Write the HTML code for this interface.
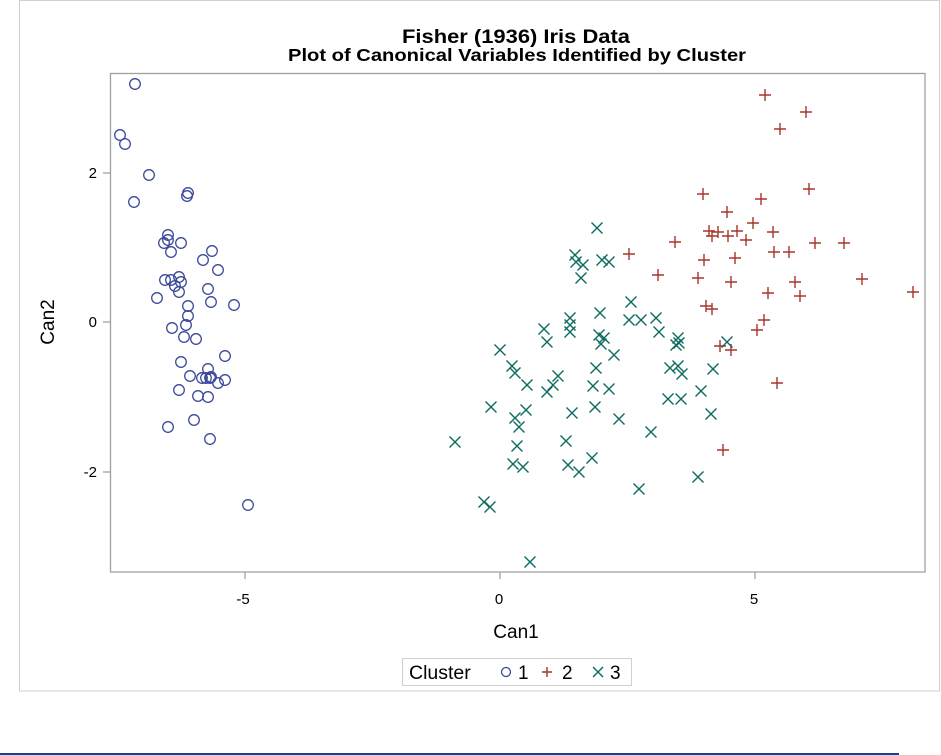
<!DOCTYPE html>
<html><head><meta charset="utf-8"><style>body{margin:0;background:#fff}svg{display:block}</style></head><body>
<svg width="941" height="755" xmlns="http://www.w3.org/2000/svg" font-family="Liberation Sans, Arial, sans-serif">
<rect x="19.5" y="0.5" width="920" height="690.5" fill="#fff" stroke="#d0d0d0" stroke-width="1"/>
<line x1="0" y1="754" x2="899" y2="754" stroke="#1a3f99" stroke-width="2"/>
<text x="402" y="43" font-size="19" font-weight="bold" textLength="228" lengthAdjust="spacingAndGlyphs">Fisher (1936) Iris Data</text>
<text x="288" y="61" font-size="17.5" font-weight="bold" textLength="458" lengthAdjust="spacingAndGlyphs">Plot of Canonical Variables Identified by Cluster</text>
<rect x="110.5" y="73.5" width="814.5" height="498.5" fill="none" stroke="#a0a0a0" stroke-width="1.3"/>
<g stroke="#a0a0a0" stroke-width="1.3">
<line x1="245" y1="572" x2="245" y2="579"/><line x1="500" y1="572" x2="500" y2="579"/><line x1="755" y1="572" x2="755" y2="579"/>
<line x1="103" y1="173" x2="110" y2="173"/><line x1="103" y1="322" x2="110" y2="322"/><line x1="103" y1="472" x2="110" y2="472"/>
</g>
<g font-size="15" fill="#000">
<text x="243" y="604" text-anchor="middle">-5</text><text x="499" y="604" text-anchor="middle">0</text><text x="754" y="604" text-anchor="middle">5</text>
<text x="97" y="178" text-anchor="end">2</text><text x="97" y="327" text-anchor="end">0</text><text x="97" y="477" text-anchor="end">-2</text>
</g>
<text x="516" y="638" text-anchor="middle" font-size="19">Can1</text>
<text transform="translate(54,322) rotate(-90)" text-anchor="middle" font-size="19">Can2</text>
<g fill="none" stroke="#3b4a9a" stroke-width="1.3" id="c1"></g>
<g fill="none" stroke="#a8342a" stroke-width="1.4" id="c2"></g>
<g fill="none" stroke="#0c6b5f" stroke-width="1.4" id="c3"></g>
<rect x="402.5" y="658.5" width="229" height="27" fill="#fff" stroke="#d0d0d0"/>
<text x="409" y="679" font-size="19.5">Cluster</text>
<circle cx="506" cy="672" r="4.5" fill="none" stroke="#3b4a9a" stroke-width="1.3"/>
<text x="518" y="679" font-size="19">1</text>
<path d="M542 672h10M547 667v10" stroke="#a8342a" stroke-width="1.4"/>
<text x="562" y="679" font-size="19">2</text>
<path d="M593 667l10 10M603 667l-10 10" stroke="#0c6b5f" stroke-width="1.4"/>
<text x="610" y="679" font-size="19">3</text>
</svg>
<script>
var c1=[[135,84],[120,135],[125,144],[149,175],[188,193],[187,196],[134,202],[168,235],[168,240],[181,243],[164,243],[212,251],[171,252],[203,260],[165,280],[171,280],[179,277],[181,282],[218,270],[175,286],[179,292],[157,298],[208,289],[211,302],[188,306],[234,305],[188,316],[172,328],[186,325],[184,337],[196,339],[181,362],[225,356],[208,369],[211,377],[190,376],[202,378],[206,378],[210,378],[218,383],[225,380],[179,390],[198,396],[208,397],[194,420],[168,427],[210,439],[248,505]];
var c2=[[765,95],[806,112],[780,129],[703,194],[809,189],[761,199],[727,212],[753,223],[709,231],[712,236],[718,232],[737,231],[746,240],[773,232],[789,252],[774,252],[728,236],[675,242],[815,243],[844,243],[629,254],[735,258],[704,260],[658,275],[698,278],[862,279],[795,282],[731,282],[768,293],[800,296],[913,292],[706,306],[712,309],[764,320],[757,330],[720,346],[731,350],[777,383],[723,450]];
var c3=[[597,228],[575,255],[576,262],[583,265],[602,260],[609,262],[581,278],[631,302],[600,313],[656,318],[641,320],[629,320],[570,318],[570,325],[544,329],[599,335],[604,338],[659,332],[570,332],[678,338],[500,350],[547,342],[601,344],[614,355],[679,343],[676,345],[727,342],[678,366],[670,368],[713,369],[512,366],[515,373],[558,376],[596,368],[593,386],[553,385],[527,385],[609,389],[682,374],[547,392],[701,391],[595,407],[491,407],[526,410],[572,413],[711,414],[515,418],[619,419],[668,399],[681,399],[519,427],[651,432],[566,441],[517,446],[455,442],[592,458],[513,464],[568,465],[523,467],[579,472],[698,477],[639,489],[484,502],[490,507],[530,562]];
var ns="http://www.w3.org/2000/svg";
function add(g,tag,attrs){var e=document.createElementNS(ns,tag);for(var k in attrs)e.setAttribute(k,attrs[k]);g.appendChild(e);}
var g1=document.getElementById('c1'),g2=document.getElementById('c2'),g3=document.getElementById('c3');
c1.forEach(function(p){add(g1,'circle',{cx:p[0],cy:p[1],r:5.3});});
c2.forEach(function(p){add(g2,'path',{d:'M'+(p[0]-6)+' '+p[1]+'h12M'+p[0]+' '+(p[1]-6)+'v12'});});
c3.forEach(function(p){add(g3,'path',{d:'M'+(p[0]-5.5)+' '+(p[1]-5.5)+'l11 11M'+(p[0]+5.5)+' '+(p[1]-5.5)+'l-11 11'});});
</script>
</body></html>
